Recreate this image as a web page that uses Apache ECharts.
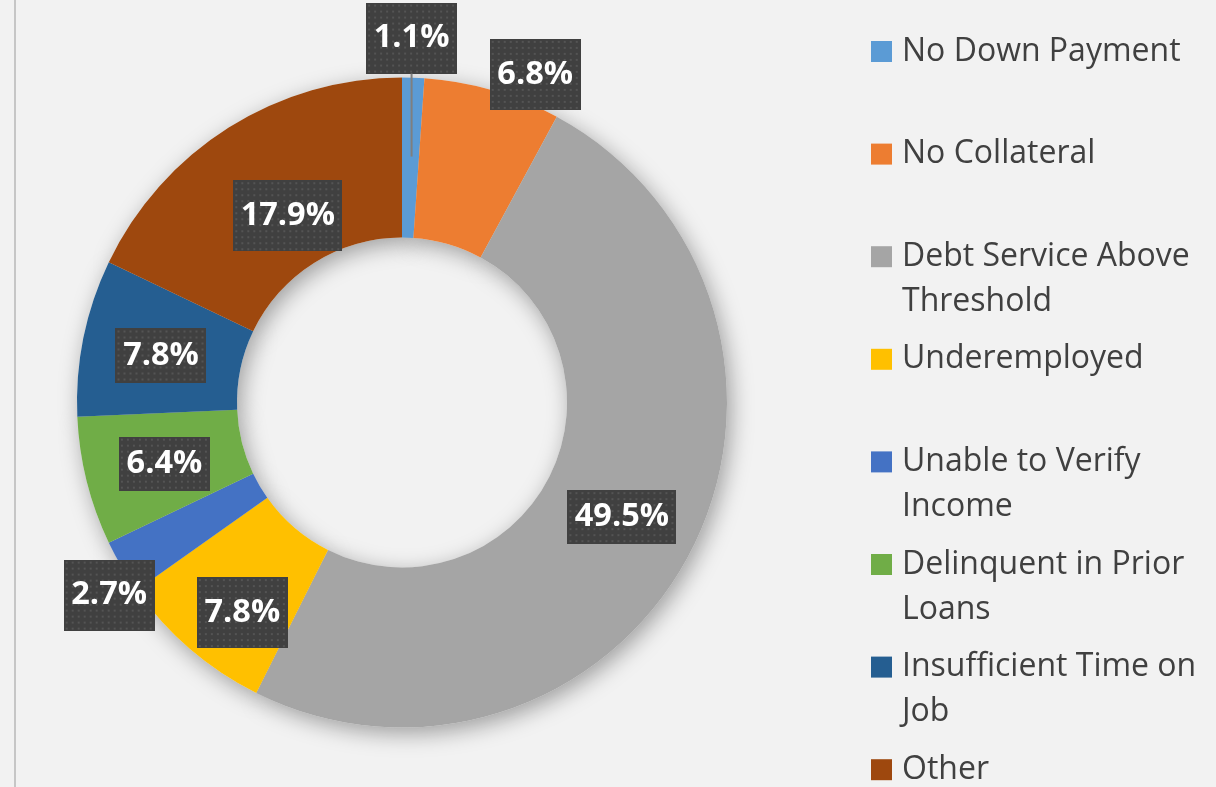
<!DOCTYPE html>
<html>
<head>
<meta charset="utf-8">
<script src="https://cdn.jsdelivr.net/npm/echarts@6/dist/echarts.min.js"></script>
<style>
  html, body { margin: 0; padding: 0; background: #f2f2f2; }
  #my_chart { width: 1216px; height: 787px; }
</style>
</head>
<body>
<div id="my_chart"></div>
<script>
// categories (legend order = slice order, clockwise from top)
var categories = ['No Down Payment', 'No Collateral', 'Debt Service Above Threshold', 'Underemployed',
    'Unable to Verify Income', 'Delinquent in Prior Loans', 'Insufficient Time on Job', 'Other'];
// share of declined applications, %
var shares = [1.1, 6.8, 49.5, 7.8, 2.7, 6.4, 7.8, 17.9];
// legend text as wrapped in the original
var legendText = ['No Down Payment', 'No Collateral', 'Debt Service Above\nThreshold', 'Underemployed',
    'Unable to Verify\nIncome', 'Delinquent in Prior\nLoans', 'Insufficient Time on\nJob', 'Other'];
var colors = ['#5b9bd5', '#ed7d31', '#a5a5a5', '#ffc000', '#4472c4', '#70ad47', '#255e91', '#9e480e'];

// label box tweaks (style only)
var labelShift = [[1, -75.1], [64, -90], [0, 0], [2, 22], [-79, 67], [3, 1], [2, 3], [18, 23]];
var labelBox = [[91, 71], [91, 71], [109, 54], [91, 71], [91, 71], [91, 54], [91, 55], [109, 71]];

// dark box with dotted texture
function dotTile(w, h) {
    var c = document.createElement('canvas');
    c.width = w; c.height = h;
    var g = c.getContext('2d');
    g.fillStyle = '#404040';
    g.fillRect(0, 0, w, h);
    g.fillStyle = '#545454';
    for (var y = 2; y < h; y += 6) {
        for (var x = 2; x < w; x += 6) {
            g.fillRect(x, y, 2, 2);
        }
    }
    return c;
}

var boxShadow = {
    shadowColor: 'rgba(0,0,0,0.45)',
    shadowBlur: 6,
    shadowOffsetX: 3,
    shadowOffsetY: 4
};

var mainData = [];
var shadowData = [];
for (var i = 0; i < shares.length; i++) {
    var w = labelBox[i][0], h = labelBox[i][1];
    var item = {
        name: categories[i],
        value: shares[i],
        itemStyle: {color: colors[i]}
    };
    if (i === 0) {
        // tiny slice: box sits above the ring with a leader dropping into the slice
        item.label = {
            formatter: function (p) { return '{box|' + p.value.toFixed(1) + '%}\n{stem| }'; },
            rich: {
                box: echarts.util.extend({
                    width: w, height: h, lineHeight: h, align: 'center',
                    color: '#ffffff', fontFamily: 'Open Sans', fontWeight: 'bold', fontSize: 32.5,
                    backgroundColor: {image: dotTile(w, h)}
                }, boxShadow),
                stem: {width: 2, height: 83, lineHeight: 83, fontSize: 1, backgroundColor: '#7f7f7f'}
            }
        };
    } else {
        item.label = echarts.util.extend({
            width: w,
            lineHeight: h,
            backgroundColor: {image: dotTile(w, h)}
        }, boxShadow);
    }
    mainData.push(item);
    shadowData.push({name: categories[i], value: shares[i]});
}

var legends = [];
for (var k = 0; k < categories.length; k++) {
    var lines = legendText[k].split('\n').length;
    var centerY = 51.5 + k * 102.6;
    // a blank first line keeps the icon level with the first text line
    var txt = lines > 1 ? '\n' + legendText[k] : legendText[k];
    legends.push({
        data: [categories[k]],
        left: 871,
        top: centerY - 22.5 - 45 * (lines - 1),
        padding: 0,
        orient: 'vertical',
        icon: 'rect',
        itemWidth: 21,
        itemHeight: 21,
        selectedMode: false,
        formatter: (function (t) { return function () { return t; }; })(txt),
        textStyle: {
            fontFamily: 'Open Sans',
            fontSize: 32,
            color: '#404040',
            lineHeight: 45,
            backgroundColor: 'transparent',
            padding: [0, 0, 0, 5]
        }
    });
}

var myChart = echarts.init(document.getElementById('my_chart'));
var option = {
    backgroundColor: '#f2f2f2',
    animation: false,
    legend: legends,
    graphic: [{
        type: 'rect',
        left: 14,
        top: 0,
        shape: {width: 2, height: 787},
        style: {fill: '#c6c6c6'},
        silent: true
    }],
    series: [
        {
            name: 'Reasons',
            type: 'pie',
            z: 3,
            center: [402, 402.5],
            radius: [165, 325],
            startAngle: 90,
            silent: true,
            label: {
                show: true,
                position: 'inside',
                formatter: function (p) { return p.value.toFixed(1) + '%'; },
                color: '#ffffff',
                fontFamily: 'Open Sans',
                fontWeight: 'bold',
                fontSize: 32.5,
                align: 'center',
                verticalAlign: 'middle',
                padding: 0
            },
            labelLine: {show: false},
            labelLayout: function (params) {
                var s = labelShift[params.dataIndex];
                return {dx: s[0], dy: s[1]};
            },
            data: mainData
        },
        {
            // soft shadow behind the ring
            name: 'shadow',
            type: 'pie',
            z: 2,
            center: [402, 402.5],
            radius: [165, 325],
            startAngle: 90,
            silent: true,
            label: {show: false},
            labelLine: {show: false},
            itemStyle: {
                color: '#f2f2f2',
                shadowColor: 'rgba(0,0,0,0.35)',
                shadowBlur: 22,
                shadowOffsetX: 4,
                shadowOffsetY: 6
            },
            data: shadowData
        }
    ]
};
myChart.setOption(option);
</script>
</body>
</html>
